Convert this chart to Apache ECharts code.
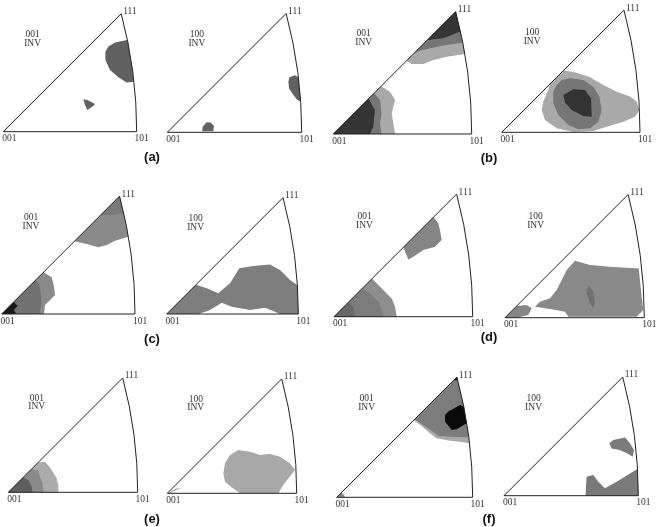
<!DOCTYPE html>
<html><head><meta charset="utf-8">
<script src="https://cdn.jsdelivr.net/npm/echarts@6/dist/echarts.min.js"></script>
<style>html,body{margin:0;padding:0;background:#fff}#c{width:658px;height:527px}</style>
</head><body><div id="c"></div>
<script>
// ---------- text ----------
const vertexNames = ['001', '101', '111'];
const poleNames = ['001', '100', '001', '100', '001', '100', '001', '100', '001', '100', '001', '100'];
const invName = 'INV';
const panelTags = ['(a)', '(b)', '(c)', '(d)', '(e)', '(f)'];

// ---------- contour regions (triangle coords: 001=(0,0), 101=(100,0), 111=(88.4,88.4)) ----------
const a1Blob1 = [[78.8,63.8],[83.8,66.8],[93.0,68.8],[96.0,52.0],[97.9,37.5],[92.5,36.8],[86.3,40.8],[80.0,46.3],[76.5,53.8],[76.5,60.0]];
const a1Blob2 = [[60.0,24.3],[63.0,23.8],[68.8,20.8],[67.5,19.3],[63.0,16.3],[61.3,20.0]];

const a2Blob1 = [[90.8,40.9],[95.0,42.4],[97.5,40.9],[98.6,31.0],[99.2,22.8],[96.3,24.6],[93.3,28.5],[90.6,32.8],[90.1,37.7]];
const a2Blob2 = [[26.3,4.2],[29.3,7.4],[32.3,7.2],[34.7,4.7],[34.2,0.8],[26.0,0.8]];

const b1TopLight = [[53.0,53.0],[56.6,50.6],[65.1,50.6],[72.3,53.5],[81.9,55.9],[95.1,57.8],[92.1,73.0],[88.4,88.4]];
const b1TopMid = [[58.7,58.7],[62.7,60.2],[69.9,61.9],[81.9,64.3],[93.5,66.0],[92.1,73.0],[88.4,88.4]];
const b1TopDark = [[68.0,68.0],[79.5,69.2],[91.9,74.0],[90.3,81.0],[88.4,88.4]];
const b1LowLight = [[0,0],[34.5,34.5],[41.0,30.6],[44.6,24.6],[42.2,14.9],[43.4,7.7],[44.6,0]];
const b1LowMid = [[0,0],[29.5,29.5],[33.7,24.6],[34.9,14.9],[33.7,7.7],[34.9,0]];
const b1LowDark = [[0,0],[25.5,25.5],[30.1,17.3],[28.9,5.3],[26.5,0]];

const b2Light = [[35.0,35.0],[44.8,44.8],[54.2,43.1],[63.9,39.8],[73.5,34.2],[83.1,29.4],[92.8,25.8],[97.6,22.2],[99.5,16.1],[96.4,11.3],[88.0,7.7],[75.9,4.1],[66.3,1.0],[51.8,0.2],[39.8,2.9],[31.3,8.9],[28.9,16.1],[30.1,22.2],[33.5,30.0]];
const b2Mid = [[39.8,34.2],[43.4,37.8],[49.4,39.0],[59.0,37.8],[66.3,33.0],[70.6,25.8],[72.3,16.1],[69.9,7.7],[63.9,2.9],[55.4,2.2],[48.2,5.3],[41.0,12.5],[37.3,21.0],[37.3,29.4]];
const b2Dark = [[44.6,27.0],[51.8,31.1],[60.2,30.6],[64.6,24.6],[65.1,11.3],[59.0,11.8],[50.6,16.1],[45.8,21.4]];

const c1TopOuter = [[54.5,54.5],[63.8,52.5],[72.5,50.0],[78.8,51.8],[85.0,55.0],[95.1,58.0],[92.1,73.0],[88.4,88.4]];
const c1TopInner = [[74.0,74.0],[83.8,74.5],[91.5,75.5],[90.3,81.0],[88.4,88.4]];
const c1LowOuter = [[0,0],[31.3,31.3],[37.5,27.5],[39.3,20.5],[40.0,14.3],[36.3,10.5],[32.5,6.8],[31.8,0]];
const c1LowInner = [[0,0],[25.3,25.3],[28.3,21.8],[29.3,15.5],[30.0,8.0],[28.3,0]];
const c1LowCore = [[0,0],[9.0,9.0],[12.0,6.0],[9.0,3.0],[11.0,0]];

const c2Blob = [[0,0],[24.1,0],[32.9,3.0],[41.8,8.6],[49.4,5.6],[63.3,3.0],[74.7,4.8],[82.3,1.8],[86.1,0],[100,0],[99.8,11.0],[99.3,22.0],[93.7,25.8],[86.1,33.4],[78.5,37.7],[65.8,36.5],[55.2,34.7],[48.1,23.3],[39.2,15.7],[30.4,19.5],[22.3,22.3]];

const d1Top = [[50.0,50.0],[71.8,71.8],[75.2,67.3],[76.4,62.5],[77.6,55.3],[72.8,50.5],[64.4,48.1],[57.2,43.3],[53.6,41.3]];
const d1LowOuter = [[0,0],[27.4,27.4],[32.0,22.8],[38.0,16.8],[41.6,13.2],[44.0,7.2],[45.2,0]];
const d1LowMid = [[0,0],[20.2,20.2],[26.0,16.8],[32.0,10.8],[34.4,4.8],[35.6,0]];
const d1LowInner = [[0,0],[10.3,10.3],[13.9,7.2],[15.1,0]];

const d2Main = [[50.2,40.9],[61.0,37.8],[75.3,36.6],[96.0,35.4],[98.1,15.1],[99.3,5.5],[94.5,0.7],[45.5,0.7],[43.1,4.3],[33.5,6.0],[21.5,7.9],[25.1,11.5],[32.3,13.9],[37.1,19.9],[40.7,27.0],[44.3,34.2]];
const d2Left = [[0,0],[8.4,8.4],[15.5,9.1],[19.1,6.7],[16.7,1.9],[8.4,0]];
const d2Core = [[59.8,23.4],[63.4,18.7],[64.6,11.5],[63.4,6.7],[61.0,10.3],[58.6,17.5]];

const e1Light = [[0,0],[23.0,23.0],[28.3,23.7],[31.7,19.8],[34.8,15.2],[37.4,10.8],[38.7,4.4],[38.7,0]];
const e1Mid = [[0,0],[17.9,17.9],[23.2,16.8],[24.5,12.1],[26.5,7.0],[27.1,0]];
const e1Dark = [[0,0],[11.4,11.4],[15.5,9.5],[18.0,4.4],[18.8,0]];

const e2Blob = [[43.3,15.5],[44.6,23.2],[48.5,29.6],[54.9,33.5],[63.9,32.2],[71.6,29.6],[79.4,30.4],[87.1,28.3],[94.8,23.2],[98.7,18.0],[93.6,11.6],[89.7,6.4],[85.8,0],[56.2,0],[49.7,4.6],[44.6,9.0]];
const e2Sliver = [[1.0,0.5],[6.0,3.5],[11.0,4.1],[7.0,2.6],[2.0,0.2]];

const f1Light = [[56.6,56.6],[62.5,52.5],[68.6,47.1],[73.5,43.4],[82.1,41.7],[90.7,40.9],[97.7,39.7],[95.5,55.0],[92.1,73.0],[88.4,88.4]];
const f1Mid = [[57.3,57.3],[63.7,53.2],[69.9,48.8],[74.8,45.3],[83.3,44.6],[97.1,44.1],[95.5,55.0],[92.1,73.0],[88.4,88.4]];
const f1Core = [[79.7,60.5],[82.1,63.0],[90.7,67.9],[93.4,66.7],[95.6,54.4],[88.2,50.0],[84.6,49.5],[79.7,55.6]];
const f1Tip = [[86.0,86.0],[88.4,88.4],[88.8,86.0]];
const f1Corner = [[0,0],[3.7,3.7],[5.3,1.7],[6.1,0]];

const f2Upper = [[78.4,39.0],[81.4,41.4],[90.1,43.4],[93.8,39.0],[96.8,34.0],[95.8,29.0],[92.6,31.0],[86.3,34.0],[80.1,35.2]];
const f2Lower = [[61.5,14.1],[66.5,15.4],[70.2,10.4],[75.2,5.5],[83.9,10.4],[93.8,16.6],[99.4,19.9],[99.8,10.0],[100,0],[60.8,0],[61.0,6.7]];

// triangle corner positions (crystal directions in projected units)
const corner001 = [0, 0];
const corner101 = [100, 0];
const corner111 = [88.4, 88.4];
const arcCenter = [-241.4, 0];

// ---------- panel content (regions drawn in order, with fill) ----------
const panels = [
  [[a1Blob1,'#616161'],[a1Blob2,'#616161']],
  [[a2Blob1,'#616161'],[a2Blob2,'#616161']],
  [[b1TopLight,'#a9a9a9'],[b1TopMid,'#767676'],[b1TopDark,'#353535'],[b1LowLight,'#a9a9a9'],[b1LowMid,'#767676'],[b1LowDark,'#353535']],
  [[b2Light,'#a9a9a9'],[b2Mid,'#767676'],[b2Dark,'#333333']],
  [[c1TopOuter,'#8a8a8a'],[c1TopInner,'#7a7a7a'],[c1LowOuter,'#8a8a8a'],[c1LowInner,'#727272'],[c1LowCore,'#1a1a1a']],
  [[c2Blob,'#7e7e7e']],
  [[d1Top,'#858585'],[d1LowOuter,'#8e8e8e'],[d1LowMid,'#7c7c7c'],[d1LowInner,'#686868']],
  [[d2Main,'#898989'],[d2Left,'#868686'],[d2Core,'#707070']],
  [[e1Light,'#ababab'],[e1Mid,'#8a8a8a'],[e1Dark,'#606060']],
  [[e2Blob,'#a8a8a8'],[e2Sliver,'#a8a8a8']],
  [[f1Light,'#a8a8a8'],[f1Mid,'#7c7c7c'],[f1Core,'#0a0a0a'],[f1Tip,'#111111'],[f1Corner,'#8a8a8a']],
  [[f2Upper,'#7a7a7a'],[f2Lower,'#7a7a7a']]
];

// ---------- layout: pixel position of the 001 corner and base length ----------
const layout = [
  [3.3,131.7,133.4],[167.3,132.3,134.4],[333.3,134,138.4],[501.7,132.3,138.3],
  [1.7,314,133.3],[166.7,314,131.6],[334,316.7,138.7],[505,317.7,139.3],
  [8.3,492.3,129.4],[167.3,493.3,129.4],[336.7,497.3,136],[504,495.7,134.3]
];
const tagPos = [[152,157],[489,158],[152,339],[489,337],[152,519],[489,519]];

const YMAX = 95;
const grids = [], xAxes = [], yAxes = [], series = [];
const serifFont = '9.5px "Liberation Serif", "DejaVu Serif", serif';

layout.forEach(function (L, i) {
  const x0 = L[0], y0 = L[1], w = L[2];
  grids.push({left: x0, top: y0 - w * YMAX / 100, width: w, height: w * YMAX / 100, show: false});
  xAxes.push({type: 'value', gridIndex: i, min: 0, max: 100, show: false});
  yAxes.push({type: 'value', gridIndex: i, min: 0, max: YMAX, show: false});
  panels[i].forEach(function (region) {
    const pts = region[0], fill = region[1];
    series.push({
      type: 'custom', xAxisIndex: i, yAxisIndex: i, silent: true, animation: false,
      data: pts,
      renderItem: function (params, api) {
        if (params.dataIndex !== 0) return;
        return {type: 'polygon', shape: {points: pts.map(function (p) { return api.coord(p); })},
                style: {fill: fill, stroke: null}};
      }
    });
  });
  series.push({
    type: 'custom', xAxisIndex: i, yAxisIndex: i, silent: true, animation: false,
    data: [corner001],
    renderItem: function (params, api) {
      const p0 = api.coord(corner001), p1 = api.coord(corner101), p2 = api.coord(corner111), c = api.coord(arcCenter);
      const r = p1[0] - c[0];
      const inv1 = api.coord([22, 72.5]), inv2 = api.coord([22, 66]);
      const txt = function (x, y, s, align) {
        return {type: 'text', x: x, y: y, style: {text: s, fill: '#333', font: serifFont, align: align, verticalAlign: 'middle', textAlign: align, textVerticalAlign: 'middle'}};
      };
      return {type: 'group', children: [
        {type: 'path', shape: {pathData: 'M' + p0[0] + ' ' + p0[1] + ' L' + p1[0] + ' ' + p1[1] +
          ' A' + r + ' ' + r + ' 0 0 0 ' + p2[0] + ' ' + p2[1] + ' Z'},
          style: {fill: null, stroke: '#222', lineWidth: 1}},
        txt(p0[0] + 6, p0[1] + 7, vertexNames[0], 'center'),
        txt(p1[0] + 5, p1[1] + 7, vertexNames[1], 'center'),
        txt(p2[0] + 2, p2[1] - 2, vertexNames[2], 'left'),
        txt(inv1[0], inv1[1], poleNames[i], 'center'),
        txt(inv2[0], inv2[1], invName, 'center')
      ]};
    }
  });
});

const graphic = panelTags.map(function (t, k) {
  return {type: 'text', x: tagPos[k][0], y: tagPos[k][1],
    style: {text: t, fill: '#111', font: 'bold 13px "Liberation Sans", Arial, sans-serif', align: 'center', verticalAlign: 'middle'}};
});

const chart = echarts.init(document.getElementById('c'), null, {renderer: 'canvas'});
chart.setOption({
  animation: false,
  backgroundColor: '#ffffff',
  grid: grids, xAxis: xAxes, yAxis: yAxes, series: series, graphic: graphic
});
</script>
</body></html>
